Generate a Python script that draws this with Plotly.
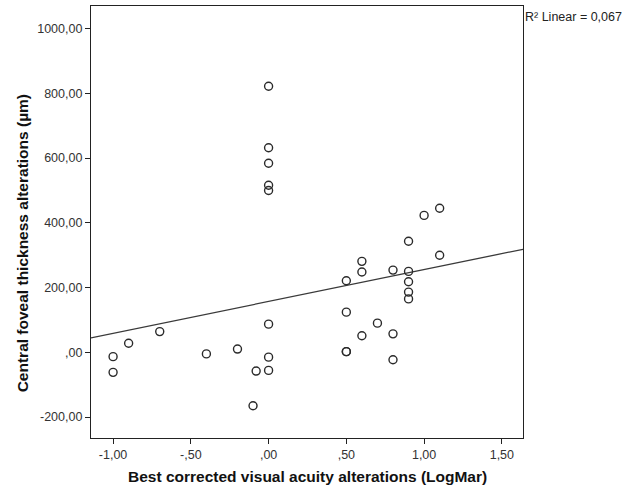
import numpy as np
import plotly.graph_objects as go

# Data
bcva = [-1.0, -1.0, -0.9, -0.7, -0.4, -0.2, 0.0, 0.0, -0.08, 0.0,
        0.5, 0.5, 0.5, 0.5, 0.6, 0.6, 0.6, 0.7, 0.8, 0.8, 0.8,
        0.9, 0.9, 0.9, 0.9, 0.9, 1.0, 1.1, 1.1,
        0.0, 0.0, 0.0, 0.0, 0.0, -0.1]
cft = [-13.5, -62, 28, 64, -5, 10, 87, -15, -58, -56,
       221, 124, 2, 2, 281, 248, 51, 90, 254, 57, -23,
       343, 250, 218, 186, 165, 423, 445, 300,
       822, 632, 584, 516, 500, -165]

x_tickvals = [-1.0, -0.5, 0.0, 0.5, 1.0, 1.5]
x_ticktext = ["-1,00", "-,50", ",00", ",50", "1,00", "1,50"]
y_tickvals = [-200, 0, 200, 400, 600, 800, 1000]
y_ticktext = ["-200,00", ",00", "200,00", "400,00", "600,00", "800,00", "1000,00"]

x_title = "Best corrected visual acuity alterations (LogMar)"
y_title = "Central foveal thickness alterations (µm)"
r2_label = "R² Linear = 0,067"

x_range = [-1.142, 1.636]
y_range = [-264.8, 1070]

# Least squares fit line computed from the data
xa = np.array(bcva)
ya = np.array(cft)
slope, intercept = np.polyfit(xa, ya, 1)
line_x = np.array(x_range)
line_y = intercept + slope * line_x

fig = go.Figure()
fig.add_trace(go.Scatter(
    x=line_x, y=line_y, mode="lines",
    line=dict(color="#3a3a3a", width=1.3),
    hoverinfo="skip", showlegend=False))
fig.add_trace(go.Scatter(
    x=bcva, y=cft, mode="markers",
    marker=dict(symbol="circle-open", size=8, color="#2a2a2a",
                line=dict(width=1.4, color="#2a2a2a")),
    showlegend=False))

tick_font = dict(family="Liberation Sans Narrow, Arial Narrow, Liberation Sans, sans-serif",
                 size=12.5, color="#333333")
fig.update_xaxes(range=x_range, tickvals=x_tickvals, ticktext=x_ticktext,
                 showgrid=False, zeroline=False, showline=True, mirror=True,
                 linecolor="#222222", linewidth=1.2, ticks="outside", ticklen=5,
                 tickcolor="#222222", tickfont=tick_font)
fig.update_yaxes(range=y_range, tickvals=y_tickvals, ticktext=y_ticktext,
                 showgrid=False, zeroline=False, showline=True, mirror=True,
                 linecolor="#222222", linewidth=1.2, ticks="outside", ticklen=5,
                 tickcolor="#222222", tickfont=tick_font)

title_font = dict(family="Liberation Sans, Arial, sans-serif", size=15.5, color="#111111")
fig.update_layout(
    width=627, height=488,
    margin=dict(l=91, r=104, t=6, b=50),
    paper_bgcolor="white", plot_bgcolor="white",
    annotations=[
        dict(text="<b>" + x_title + "</b>", xref="paper", yref="paper",
             x=0.5, y=-0.088, yanchor="middle", xanchor="center",
             showarrow=False, font=title_font),
        dict(text="<b>" + y_title + "</b>", xref="paper", yref="paper",
             x=-0.158, y=0.45, textangle=-90, xanchor="center", yanchor="middle",
             showarrow=False, font=title_font),
        dict(text=r2_label, xref="paper", yref="paper",
             x=1.0, y=0.975, xanchor="left", yanchor="middle",
             showarrow=False,
             font=dict(family="Liberation Sans Narrow, Liberation Sans, sans-serif",
                       size=12.5, color="#222222")),
    ],
)

fig.write_html("out.html", config={"displayModeBar": False},
               post_script="document.body.style.margin='0';document.body.style.overflow='hidden';")
